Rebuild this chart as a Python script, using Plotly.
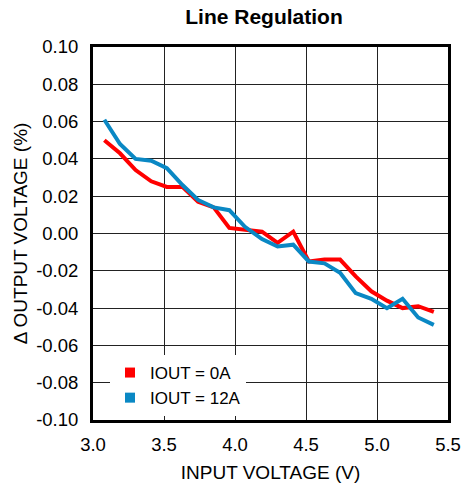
import plotly.graph_objects as go

vin = [3.08, 3.19, 3.30, 3.41, 3.52, 3.63, 3.74, 3.85, 3.96, 4.07, 4.19,
       4.30, 4.41, 4.52, 4.63, 4.74, 4.85, 4.96, 5.07, 5.18, 5.29, 5.40]
iout_0a = [0.050, 0.043, 0.034, 0.028, 0.025, 0.025, 0.017, 0.014, 0.003, 0.002, 0.001,
           -0.005, 0.001, -0.015, -0.014, -0.014, -0.023, -0.031, -0.036, -0.040, -0.039, -0.042]
iout_12a = [0.061, 0.048, 0.040, 0.039, 0.035, 0.026, 0.018, 0.014, 0.0125, 0.0036, -0.003,
            -0.007, -0.006, -0.015, -0.016, -0.021, -0.032, -0.035, -0.040, -0.035, -0.045, -0.049]

x_ticks = [3.0, 3.5, 4.0, 4.5, 5.0, 5.5]
x_labels = ["3.0", "3.5", "4.0", "4.5", "5.0", "5.5"]
y_ticks = [0.10, 0.08, 0.06, 0.04, 0.02, 0.00, -0.02, -0.04, -0.06, -0.08, -0.10]
y_labels = ["0.10", "0.08", "0.06", "0.04", "0.02", "0.00", "-0.02", "-0.04", "-0.06", "-0.08", "-0.10"]

RED = "#FF0000"
BLUE = "#0A88C4"
FONT = "Liberation Sans, Arial, sans-serif"

fig = go.Figure()
fig.add_trace(go.Scatter(x=vin, y=iout_0a, mode="lines", line=dict(color=RED, width=4),
                         showlegend=False))
fig.add_trace(go.Scatter(x=vin, y=iout_12a, mode="lines", line=dict(color=BLUE, width=4),
                         showlegend=False))
fig.add_trace(go.Scatter(x=[None], y=[None], mode="markers", name="IOUT = 0A",
                         marker=dict(symbol="square", size=10, color=RED)))
fig.add_trace(go.Scatter(x=[None], y=[None], mode="markers", name="IOUT = 12A",
                         marker=dict(symbol="square", size=10, color=BLUE)))

fig.update_layout(
    width=461, height=483,
    margin=dict(l=93, r=13, t=47, b=63),
    paper_bgcolor="white", plot_bgcolor="white",
    font=dict(family=FONT, size=18, color="black"),
    title=dict(text="<b>Line Regulation</b>", x=264/461, xref="container", xanchor="center",
               y=1 - 17/483, yref="container", yanchor="middle",
               font=dict(family=FONT, size=21, color="black")),
    showlegend=True,
    legend=dict(x=(110 - 93) / 355, y=(420 - 355) / 373, xanchor="left", yanchor="top",
                bgcolor="white", borderwidth=0, tracegroupgap=0,
                font=dict(family=FONT, size=17, color="black"),
                itemwidth=30),
)
fig.update_xaxes(
    range=[3.0, 5.5], tickvals=x_ticks, ticktext=x_labels, automargin=False,
    showgrid=True, gridcolor="#222222", gridwidth=1,
    showline=True, linecolor="black", linewidth=3, mirror=True,
    ticks="", ticklabelstandoff=6, zeroline=False, tickfont=dict(size=18.5),
    title=dict(text="INPUT VOLTAGE (V)", font=dict(size=19)),
)
fig.update_yaxes(
    range=[-0.10, 0.10], tickvals=y_ticks, ticktext=y_labels, automargin=False,
    showgrid=True, gridcolor="#222222", gridwidth=1,
    showline=True, linecolor="black", linewidth=3, mirror=True,
    ticks="", ticklabelstandoff=8, zeroline=False, tickfont=dict(size=18.5),
    title=dict(text="Δ OUTPUT VOLTAGE (%)", font=dict(size=19), standoff=4),
)

fig.write_html("out.html", config={"displayModeBar": False},
               post_script="document.body.style.margin='0';document.body.style.overflow='hidden';")
